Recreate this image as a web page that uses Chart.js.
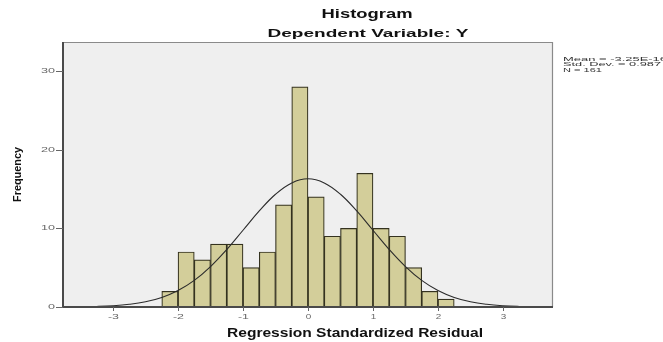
<!DOCTYPE html>
<html>
<head>
<meta charset="utf-8">
<script src="https://cdn.jsdelivr.net/npm/chart.js@4.4.1/dist/chart.umd.min.js"></script>
<style>
  html, body { margin: 0; padding: 0; background: #ffffff; }
  #wrap { width: 663px; height: 342px; position: relative; }
</style>
</head>
<body>
<div id="wrap"><canvas id="c" width="663" height="342"></canvas></div>
<script>
// ---- data ----
const binCenters = [-2.125, -1.875, -1.625, -1.375, -1.125, -0.875, -0.625, -0.375, -0.125,
                    0.125, 0.375, 0.625, 0.875, 1.125, 1.375, 1.625, 1.875, 2.125];
const frequencies = [2, 7, 6, 8, 8, 5, 7, 13, 28, 14, 9, 10, 17, 10, 9, 5, 2, 1];

const curveX = [-3.75, -3.5, -3.25, -3, -2.75, -2.5, -2.25, -2, -1.75, -1.5, -1.25, -1, -0.75, -0.5, -0.25,
                0, 0.25, 0.5, 0.75, 1, 1.25, 1.5, 1.75, 2, 2.25, 2.5, 2.75, 3, 3.25, 3.5, 3.75];
const curveY = [0.01, 0.03, 0.07, 0.16, 0.34, 0.66, 1.21, 2.09, 3.38, 5.14, 7.31, 9.76, 12.21, 14.34, 15.78,
                16.3, 15.78, 14.34, 12.21, 9.76, 7.31, 5.14, 3.38, 2.09, 1.21, 0.66, 0.34, 0.16, 0.07, 0.03, 0.01];

const xTicks = [-3, -2, -1, 0, 1, 2, 3];
const yTicks = [0, 10, 20, 30];
const titleText = "Histogram";
const subtitleText = "Dependent Variable: Y";
const xTitle = "Regression Standardized Residual";
const yTitle = "Frequency";
const statsLines = ["Mean = -3.25E-16", "Std. Dev. = 0.987", "N = 161"];

// ---- helpers ----
function stretchText(ctx, text, x, y, font, targetW, align, color, baseline) {
  ctx.save();
  ctx.font = font;
  ctx.fillStyle = color;
  ctx.textBaseline = baseline || 'alphabetic';
  const w = ctx.measureText(text).width;
  const sx = targetW ? targetW / w : 1;
  ctx.translate(x, y);
  ctx.scale(sx, 1);
  ctx.textAlign = align || 'left';
  ctx.fillText(text, 0, 0);
  ctx.restore();
}

const decor = {
  id: 'decor',
  beforeDatasetsDraw(chart) {
    const { ctx, chartArea: a } = chart;
    ctx.save();
    ctx.fillStyle = '#efefef';
    ctx.fillRect(a.left, a.top, a.right - a.left, a.bottom - a.top);
    ctx.restore();
  },
  afterDatasetsDraw(chart) {
    const { ctx, chartArea: a, scales } = chart;
    const xs = scales.x, ys = scales.y;
    ctx.save();
    // top / right frame
    ctx.strokeStyle = '#8a8a8a';
    ctx.lineWidth = 1.2;
    ctx.beginPath();
    ctx.moveTo(a.left, a.top + 0.5);
    ctx.lineTo(a.right - 0.5, a.top + 0.5);
    ctx.lineTo(a.right - 0.5, a.bottom);
    ctx.stroke();
    // axis lines
    ctx.strokeStyle = '#4a4a4a';
    ctx.lineWidth = 2;
    ctx.beginPath();
    ctx.moveTo(a.left, a.top);
    ctx.lineTo(a.left, a.bottom);
    ctx.lineTo(a.right, a.bottom);
    ctx.stroke();
    // y ticks
    ctx.lineWidth = 1;
    ctx.strokeStyle = '#666';
    yTicks.forEach(v => {
      const py = Math.round(ys.getPixelForValue(v)) + 0.5;
      ctx.beginPath();
      ctx.moveTo(a.left - 7, py);
      ctx.lineTo(a.left, py);
      ctx.stroke();
      stretchText(ctx, String(v), a.left - 8, py, '7px "Liberation Sans"', String(v).length * 7, 'right', '#666', 'middle');
    });
    // x ticks
    xTicks.forEach(v => {
      const px = Math.round(xs.getPixelForValue(v)) + 0.5;
      ctx.beginPath();
      ctx.moveTo(px, a.bottom);
      ctx.lineTo(px, a.bottom + 4);
      ctx.stroke();
      const s = v < 0 ? '-' + Math.abs(v) : String(v);
      stretchText(ctx, s, px, a.bottom + 10, '7px "Liberation Sans"', s.length * 5.5, 'center', '#666', 'middle');
    });
    ctx.restore();

    // titles
    stretchText(ctx, titleText, 367, 18, 'bold 12.5px "Liberation Sans"', 91, 'center', '#111');
    stretchText(ctx, subtitleText, 368, 37, 'bold 11px "Liberation Sans"', 201, 'center', '#111');
    stretchText(ctx, xTitle, 355, 337, 'bold 12.5px "Liberation Sans"', 256, 'center', '#111');
    // y title rotated
    ctx.save();
    ctx.translate(18, (a.top + a.bottom) / 2);
    ctx.rotate(-Math.PI / 2);
    stretchText(ctx, yTitle, 0, 0, 'bold 10px "Liberation Sans"', 55, 'center', '#111', 'middle');
    ctx.restore();
    // stats
    const statW = [104, 98, 39];
    statsLines.forEach((t, i) => {
      stretchText(ctx, t, 563, 59.5 + i * 5.2, '6px "Liberation Sans"', statW[i], 'left', '#333', 'middle');
    });
  }
};

const ctx = document.getElementById('c').getContext('2d');
new Chart(ctx, {
  data: {
    datasets: [
      {
        type: 'line',
        data: curveX.map((x, i) => ({ x: x, y: curveY[i] })),
        borderColor: '#2b2b2b',
        borderWidth: 1.1,
        pointRadius: 0,
        tension: 0.4,
        fill: false,
        order: 0
      },
      {
        type: 'bar',
        data: binCenters.map((x, i) => ({ x: x, y: frequencies[i] })),
        backgroundColor: '#d3ce9a',
        borderColor: '#34321f',
        borderWidth: 1.2,
        barPercentage: 1,
        categoryPercentage: 1,
        order: 1
      }
    ]
  },
  options: {
    responsive: false,
    animation: false,
    events: [],
    layout: { padding: { left: 63, right: 110, top: 42, bottom: 35 } },
    plugins: { legend: { display: false }, tooltip: { enabled: false }, title: { display: false } },
    scales: {
      x: {
        type: 'linear',
        min: -3.77, max: 3.77,
        offset: false,
        grid: { display: false, drawTicks: false },
        border: { display: false },
        ticks: { display: false }
      },
      y: {
        type: 'linear',
        min: 0, max: 33.7,
        grid: { display: false, drawTicks: false },
        border: { display: false },
        ticks: { display: false }
      }
    }
  },
  plugins: [decor]
});
</script>
</body>
</html>
